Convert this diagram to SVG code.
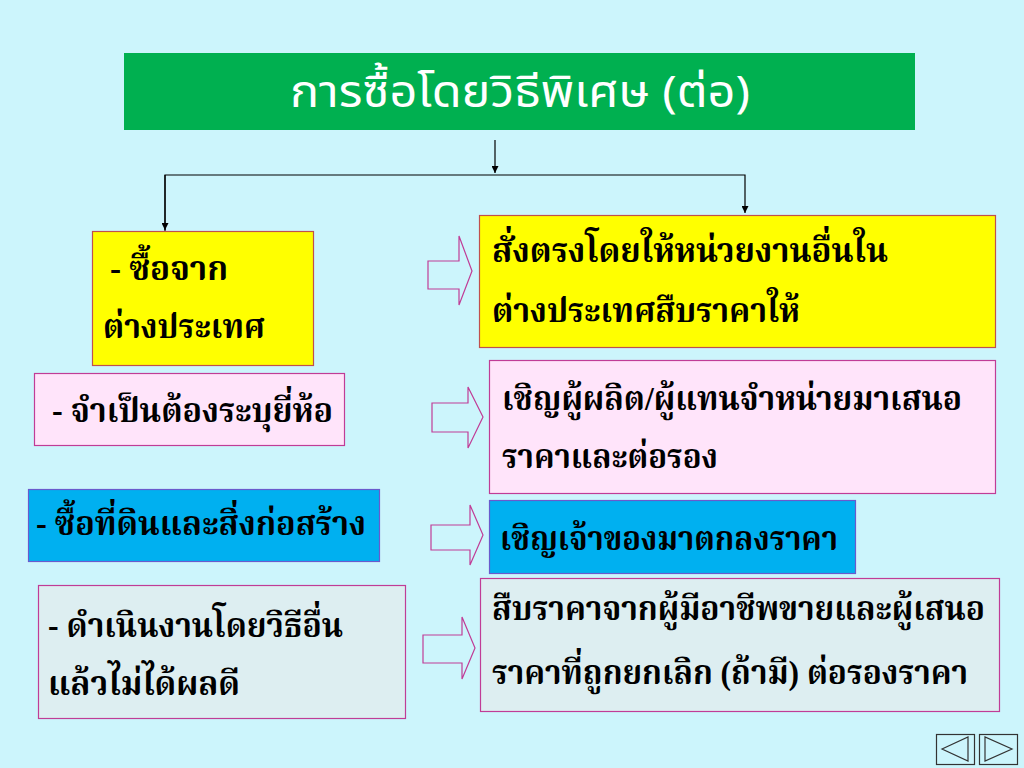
<svg xmlns="http://www.w3.org/2000/svg" width="1024" height="768" viewBox="0 0 1024 768">
<style>
.t{font-family:"Liberation Serif","Noto Serif Thai","Noto Sans Thai","DejaVu Sans",serif;font-weight:bold;font-size:34px;fill:#000}
.title{font-family:"Noto Sans Thai","Liberation Sans","DejaVu Sans",sans-serif;font-size:44px;fill:#fff}
.hol{fill:none;stroke:#C03C96;stroke-width:1.2}
.ln{fill:none;stroke:#000;stroke-width:1.2}
.nav{fill:none;stroke:#333;stroke-width:1.2}
</style>
<defs>
<marker id="ah" viewBox="0 0 10 10" refX="10" refY="5" markerWidth="7" markerHeight="7" orient="auto" markerUnits="userSpaceOnUse">
<path d="M0,0 L10,5 L0,10 z" fill="#000"/>
</marker>
</defs>
<rect width="1024" height="768" fill="#CCF5FC"/>
<g id="title">
<rect x="124" y="53" width="791" height="77" fill="#00B050"/>
<text class="title" x="520" y="107" text-anchor="middle" textLength="460" lengthAdjust="spacingAndGlyphs">การซื้อโดยวิธีพิเศษ (ต่อ)</text>
</g>
<g id="connectors">
<line class="ln" x1="495" y1="140" x2="495" y2="173" marker-end="url(#ah)"/>
<polyline class="ln" points="165,231 165,175 745,175 745,213" marker-end="url(#ah)"/>
<path class="ln" d="M165,175 L165,230" marker-end="url(#ah)"/>
<path class="hol" d="M428,261 H459 V236 L472,271 L459,305 V289 H428 Z"/>
<path class="hol" d="M432,403 H468 V387 L483,417 L468,448 V432 H432 Z"/>
<path class="hol" d="M431,525 H470 V505 L483,535 L470,565 V550 H431 Z"/>
<path class="hol" d="M423,635 H462 V617 L475,648 L462,679 V663 H423 Z"/>
</g>
<g id="n1">
<rect x="92.5" y="231.5" width="221" height="134" fill="#FFFF00" stroke="#C0504D" stroke-width="1.2"/>
<text class="t" x="110" y="280" textLength="118" lengthAdjust="spacingAndGlyphs">- ซื้อจาก</text>
<text class="t" x="103" y="338" textLength="162" lengthAdjust="spacingAndGlyphs">ต่างประเทศ</text>
</g>
<g id="n2">
<rect x="479.5" y="215.5" width="516" height="132" fill="#FFFF00" stroke="#C0504D" stroke-width="1.2"/>
<text class="t" x="492" y="262" textLength="396" lengthAdjust="spacingAndGlyphs">สั่งตรงโดยให้หน่วยงานอื่นใน</text>
<text class="t" x="492" y="322" textLength="308" lengthAdjust="spacingAndGlyphs">ต่างประเทศสืบราคาให้</text>
</g>
<g id="n3">
<rect x="34.5" y="373.5" width="310" height="72" fill="#FFE4FA" stroke="#C03C96" stroke-width="1.2"/>
<text class="t" x="52" y="422" textLength="281" lengthAdjust="spacingAndGlyphs">- จำเป็นต้องระบุยี่ห้อ</text>
</g>
<g id="n4">
<rect x="489.5" y="360.5" width="506" height="133" fill="#FFE4FA" stroke="#C03C96" stroke-width="1.2"/>
<text class="t" x="502" y="410" textLength="460" lengthAdjust="spacingAndGlyphs">เชิญผู้ผลิต/ผู้แทนจำหน่ายมาเสนอ</text>
<text class="t" x="502" y="468" textLength="216" lengthAdjust="spacingAndGlyphs">ราคาและต่อรอง</text>
</g>
<g id="n5">
<rect x="28.5" y="489.5" width="351" height="72" fill="#00B0F0" stroke="#6A5ACD" stroke-width="1.2"/>
<text class="t" x="36" y="535" textLength="330" lengthAdjust="spacingAndGlyphs">- ซื้อที่ดินและสิ่งก่อสร้าง</text>
</g>
<g id="n6">
<rect x="489.5" y="500.5" width="366" height="73" fill="#00B0F0" stroke="#6A5ACD" stroke-width="1.2"/>
<text class="t" x="500" y="550" textLength="338" lengthAdjust="spacingAndGlyphs">เชิญเจ้าของมาตกลงราคา</text>
</g>
<g id="n7">
<rect x="38.5" y="585.5" width="367" height="133" fill="#DDEEF1" stroke="#C03C96" stroke-width="1.2"/>
<text class="t" x="48" y="637" textLength="295" lengthAdjust="spacingAndGlyphs">- ดำเนินงานโดยวิธีอื่น</text>
<text class="t" x="48" y="695" textLength="192" lengthAdjust="spacingAndGlyphs">แล้วไม่ได้ผลดี</text>
</g>
<g id="n8">
<rect x="480.5" y="578.5" width="519" height="133" fill="#DDEEF1" stroke="#C03C96" stroke-width="1.2"/>
<text class="t" x="492" y="620" textLength="493" lengthAdjust="spacingAndGlyphs">สืบราคาจากผู้มีอาชีพขายและผู้เสนอ</text>
<text class="t" x="492" y="684" textLength="476" lengthAdjust="spacingAndGlyphs">ราคาที่ถูกยกเลิก (ถ้ามี) ต่อรองราคา</text>
</g>
<g id="nav">
<rect class="nav" x="936.5" y="734.5" width="38" height="30"/>
<path class="nav" d="M942,749 L968,737 L968,761 Z"/>
<rect class="nav" x="979.5" y="734.5" width="38" height="30"/>
<path class="nav" d="M985,737 L985,761 L1012,749 Z"/>
</g>
</svg>
